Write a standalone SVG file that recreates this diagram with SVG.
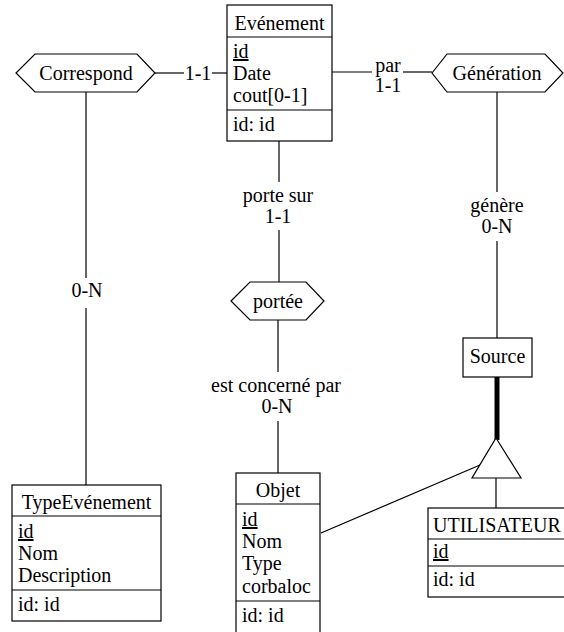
<svg xmlns="http://www.w3.org/2000/svg" width="564" height="632" viewBox="0 0 564 632" font-family="Liberation Serif, DejaVu Serif, serif" font-size="20">
<style>
  .c { text-anchor: middle; }
  .box { fill: #fff; stroke: #000; stroke-width: 1.2; }
  .sep { stroke: #000; stroke-width: 1.2; }
  .hex { fill: #fff; stroke: #000; stroke-width: 1.2; }
  .ln { stroke: #000; stroke-width: 1.2; fill: none; }
  .u { text-decoration: underline; }
</style>
<rect width="564" height="632" fill="#fff"/>

<g id="connectors">
  <line class="ln" x1="155" y1="73" x2="184" y2="73"/>
  <text x="198" y="80" class="c">1-1</text>
  <line class="ln" x1="212" y1="73" x2="227" y2="73"/>

  <line class="ln" x1="332" y1="72" x2="372" y2="72"/>
  <text x="388" y="72" class="c">par</text>
  <text x="388" y="92" class="c">1-1</text>
  <line class="ln" x1="403" y1="72" x2="432" y2="72"/>

  <line class="ln" x1="86" y1="92" x2="86" y2="278"/>
  <text x="87" y="297" class="c">0-N</text>
  <line class="ln" x1="86" y1="308" x2="86" y2="485"/>

  <line class="ln" x1="279" y1="141" x2="279" y2="182"/>
  <text x="278" y="202" class="c">porte sur</text>
  <text x="278" y="223" class="c">1-1</text>
  <line class="ln" x1="279" y1="230" x2="279" y2="282"/>

  <line class="ln" x1="497" y1="92" x2="497" y2="192"/>
  <text x="497" y="212" class="c">génère</text>
  <text x="497" y="233" class="c">0-N</text>
  <line class="ln" x1="497" y1="241" x2="497" y2="338"/>

  <line class="ln" x1="278" y1="320" x2="278" y2="372"/>
  <text x="276" y="392" class="c">est concerné par</text>
  <text x="277" y="413" class="c">0-N</text>
  <line class="ln" x1="278" y1="421" x2="278" y2="473"/>

  <line x1="497" y1="377" x2="497" y2="440" stroke="#000" stroke-width="5"/>
  <line class="ln" x1="496" y1="478" x2="496" y2="508"/>
  <line class="ln" x1="480" y1="465" x2="321" y2="533"/>
  <polygon class="hex" points="496,438 521,478 472,478"/>
</g>

<g id="Correspond">
  <polygon class="hex" points="16,73 35,54 137,54 155,73 137,92 35,92"/>
  <text x="86" y="80" class="c">Correspond</text>
</g>

<g id="Generation">
  <polygon class="hex" points="432,73 447,54 545,54 563,73 545,92 447,92"/>
  <text x="497" y="80" class="c">Génération</text>
</g>

<g id="portee">
  <polygon class="hex" points="231,301 250,282 306,282 324,301 306,320 250,320"/>
  <text x="278" y="308" class="c">portée</text>
</g>

<g id="Evenement">
  <rect class="box" x="227" y="5" width="105" height="136"/>
  <line class="sep" x1="227" y1="37" x2="332" y2="37"/>
  <line class="sep" x1="227" y1="110" x2="332" y2="110"/>
  <text x="279.5" y="30" class="c">Evénement</text>
  <text x="233" y="58" class="u">id</text>
  <text x="233" y="80">Date</text>
  <text x="233" y="102">cout[0-1]</text>
  <text x="233" y="131">id: id</text>
</g>

<g id="TypeEvenement">
  <rect class="box" x="12" y="485" width="149" height="136"/>
  <line class="sep" x1="12" y1="516" x2="161" y2="516"/>
  <line class="sep" x1="12" y1="590" x2="161" y2="590"/>
  <text x="86.5" y="509" class="c">TypeEvénement</text>
  <text x="18" y="538" class="u">id</text>
  <text x="18" y="560">Nom</text>
  <text x="18" y="582">Description</text>
  <text x="18" y="611">id: id</text>
</g>

<g id="Objet">
  <rect class="box" x="236" y="473" width="84" height="170"/>
  <line class="sep" x1="236" y1="504" x2="320" y2="504"/>
  <line class="sep" x1="236" y1="601" x2="320" y2="601"/>
  <text x="278" y="497" class="c">Objet</text>
  <text x="242" y="526" class="u">id</text>
  <text x="242" y="548">Nom</text>
  <text x="242" y="570">Type</text>
  <text x="242" y="593">corbaloc</text>
  <text x="242" y="622">id: id</text>
</g>

<g id="Source">
  <rect class="box" x="463" y="338" width="69" height="39"/>
  <text x="497.5" y="363" class="c">Source</text>
</g>

<g id="UTILISATEUR">
  <rect class="box" x="428" y="508" width="145" height="89"/>
  <line class="sep" x1="428" y1="539" x2="573" y2="539"/>
  <line class="sep" x1="428" y1="566" x2="573" y2="566"/>
  <text x="433" y="532">UTILISATEUR</text>
  <text x="433" y="558" class="u">id</text>
  <text x="433" y="586">id: id</text>
</g>
</svg>
